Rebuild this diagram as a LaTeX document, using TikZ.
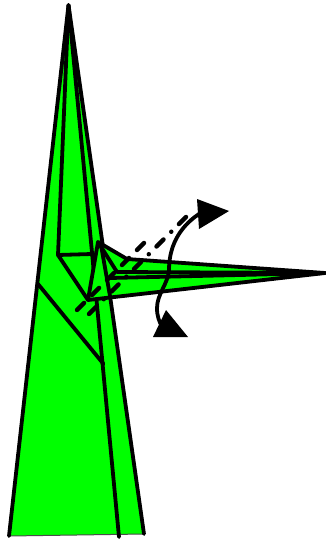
\documentclass[tikz,border=0pt]{standalone}
\usepackage{xcolor}
\usepackage{tikz}
\definecolor{papergreen}{RGB}{0,255,0}

\begin{document}
\begin{tikzpicture}[
    x=1pt, y=-1pt,
    paper/.style={fill=papergreen, draw=none},
    edge/.style={line width=3.8pt, line cap=round, line join=round},
    thinedge/.style={line width=1pt, draw=black!70},
    valley/.style={line width=4.4pt, line cap=round, dash pattern=on 10pt off 11.2pt},
    mountain/.style={line width=4.4pt, line cap=round, dash pattern=on 10pt off 10.9pt on 0.1pt off 10.8pt},
    turn/.style={line width=3.8pt},
    arrowhead/.style={fill=black, draw=none}
]
    \useasboundingbox (0,0) rectangle (326,540);

    % Points of the model
    \coordinate (apex) at (68.5,5);
    \coordinate (botleft) at (9,536);
    \coordinate (botmid) at (119,537);
    \coordinate (botright) at (144,534);
    \coordinate (pocket) at (58,255);
    \coordinate (pocketr) at (92,254);
    \coordinate (top) at (98,242);
    \coordinate (shoulder) at (127,259);
    \coordinate (tip) at (325,273);
    \coordinate (foot) at (88,300);
    \coordinate (creasea) at (38,284);
    \coordinate (creaseb) at (103.5,364);
    \coordinate (ridgea) at (117,272);
    \coordinate (ridgeb) at (110,278);

    % Body
    \fill[paper] (apex) -- (botleft) -- (botright) -- cycle;
    \draw[thinedge] (botleft) -- (botright);
    \draw[edge] (botleft) -- (apex) -- (botright);
    \draw[edge] (apex) -- (botmid);
    \draw[edge] (apex) -- (pocket) -- (pocketr);
    \draw[edge] (pocket) -- (foot);
    \draw[edge] (creasea) -- (creaseb);

    % Flap
    \fill[paper] (top) -- (shoulder) -- (tip) -- (foot) -- cycle;
    \draw[edge] (top) -- (shoulder) -- (tip) -- (foot) -- cycle;
    \draw[edge] (top) -- (ridgea) -- (tip);
    \draw[edge] (ridgeb) -- (tip);
    \draw[edge] (101,245) -- (110,296);

    % Fold lines
    \draw[valley] (77,310) -- (145,242);
    \draw[mountain] (89,314) -- (187,216);

    % Turn arrows
    \draw[turn] (199,214) .. controls (178,228) and (169,248) .. (169,270)
        .. controls (168,284) and (157,294) .. (157,308)
        .. controls (157,316) and (159,322) .. (163,328);
    \fill[arrowhead] (197,199) -- (229,211) -- (199,229) -- cycle;
    \fill[arrowhead] (166,310) -- (188,337) -- (153,337) -- cycle;
\end{tikzpicture}
\end{document}
